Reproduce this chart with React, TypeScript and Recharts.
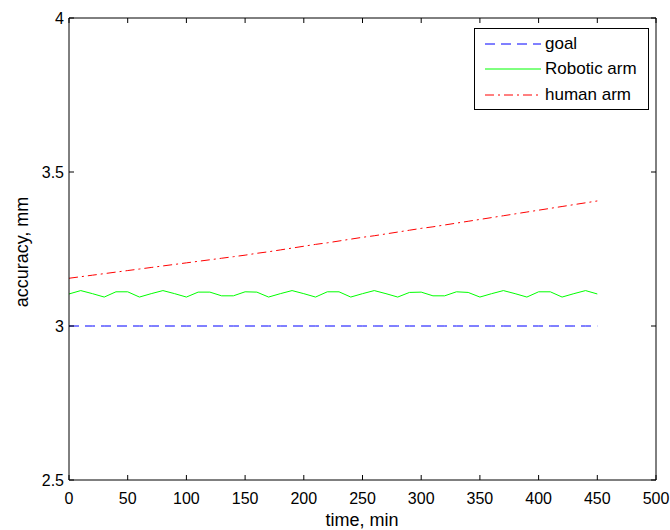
import { LineChart, Line, XAxis, YAxis, Label } from "recharts";

const TIMES = [
  0, 10, 20, 30, 40, 50, 60, 70, 80, 90, 100, 110, 120, 130, 140, 150, 160, 170, 180, 190, 200, 210, 220,
  230, 240, 250, 260, 270, 280, 290, 300, 310, 320, 330, 340, 350, 360, 370, 380, 390, 400, 410, 420, 430,
  440, 450,
];

const GOAL = TIMES.map(() => 3);

const ROBOTIC_ARM = [
  3.104, 3.115, 3.105, 3.094, 3.111, 3.111, 3.094, 3.105, 3.115, 3.105, 3.094, 3.11, 3.11, 3.098, 3.098,
  3.111, 3.11, 3.094, 3.105, 3.115, 3.105, 3.094, 3.111, 3.111, 3.094, 3.105, 3.115, 3.105, 3.094, 3.109,
  3.11, 3.098, 3.098, 3.111, 3.109, 3.094, 3.105, 3.115, 3.105, 3.094, 3.111, 3.111, 3.094, 3.105, 3.115,
  3.104,
];

const HUMAN_ARM = [
  3.155, 3.16, 3.165, 3.17, 3.175, 3.18, 3.185, 3.19, 3.195, 3.2, 3.205, 3.21, 3.215, 3.22, 3.225, 3.23,
  3.236, 3.241, 3.247, 3.253, 3.259, 3.265, 3.27, 3.276, 3.282, 3.288, 3.293, 3.299, 3.305, 3.311, 3.317,
  3.322, 3.328, 3.334, 3.34, 3.346, 3.352, 3.358, 3.364, 3.37, 3.376, 3.382, 3.388, 3.394, 3.4, 3.406,
];

const X_TICKS = [0, 50, 100, 150, 200, 250, 300, 350, 400, 450, 500];
const Y_TICKS = [2.5, 3, 3.5, 4];

const SERIES = [
  { key: "goal", name: "goal", color: "#0000ff", dash: "10 6" },
  { key: "robotic", name: "Robotic arm", color: "#00ff00", dash: undefined },
  { key: "human", name: "human arm", color: "#ff0000", dash: "9 4 2 4" },
];

const data = TIMES.map((t, i) => ({
  t,
  goal: GOAL[i],
  robotic: ROBOTIC_ARM[i],
  human: HUMAN_ARM[i],
}));

const FONT = "'Liberation Sans', Arial, sans-serif";
const tickStyle = { fill: "#000", fontSize: 16, fontFamily: FONT };

function LegendBox() {
  return (
    <div
      style={{
        position: "absolute",
        left: 474,
        top: 28,
        width: 175,
        height: 82,
        border: "1px solid #000",
        background: "#fff",
        fontFamily: FONT,
        fontSize: 17,
        color: "#000",
        paddingTop: 2,
        boxSizing: "border-box",
      }}
    >
      {SERIES.map((s) => (
        <div key={s.key} style={{ display: "flex", alignItems: "center", height: 25.5 }}>
          <svg width={70} height={10} style={{ flex: "none" }}>
            <line x1={10} y1={5} x2={66} y2={5} stroke={s.color} strokeWidth={1} strokeDasharray={s.dash} />
          </svg>
          <span>{s.name}</span>
        </div>
      ))}
    </div>
  );
}

export default function App() {
  return (
    <div style={{ position: "absolute", left: 0, top: 0, width: 670, height: 530, background: "#fff" }}>
      <LineChart width={670} height={530} data={data} margin={{ top: 17, right: 13, bottom: 0, left: 0 }}>
        <XAxis
          dataKey="t"
          type="number"
          domain={[0, 500]}
          ticks={X_TICKS}
          height={50}
          tickSize={-5}
          tickMargin={18}
          stroke="#000"
          tick={tickStyle}
          interval={0}
        >
          <Label
            position="insideBottom"
            content={() => (
              <text x={362} y={526} textAnchor="middle" fontSize={18} fontFamily={FONT} fill="#000">
                time, min
              </text>
            )}
          />
        </XAxis>
        <XAxis
          xAxisId="top"
          orientation="top"
          dataKey="t"
          type="number"
          domain={[0, 500]}
          ticks={X_TICKS}
          height={1}
          tickSize={-5}
          stroke="#000"
          tickFormatter={() => ""}
          interval={0}
        />
        <YAxis
          type="number"
          domain={[2.5, 4]}
          ticks={Y_TICKS}
          width={69}
          tickSize={-5}
          tickMargin={10}
          stroke="#000"
          tick={tickStyle}
          interval={0}
        >
          <Label
            position="insideLeft"
            content={() => (
              <text
                x={28}
                y={252}
                transform="rotate(-90 28 252)"
                textAnchor="middle"
                fontSize={18}
                fontFamily={FONT}
                fill="#000"
              >
                accuracy, mm
              </text>
            )}
          />
        </YAxis>
        <YAxis
          yAxisId="right"
          orientation="right"
          type="number"
          domain={[2.5, 4]}
          ticks={Y_TICKS}
          width={1}
          tickSize={-5}
          stroke="#000"
          tickFormatter={() => ""}
          interval={0}
        />
        {/* invisible copy so the top/right frame axes get drawn */}
        <Line
          xAxisId="top"
          yAxisId="right"
          dataKey="goal"
          stroke="none"
          dot={false}
          activeDot={false}
          legendType="none"
          isAnimationActive={false}
        />
        {SERIES.map((s) => (
          <Line
            key={s.key}
            dataKey={s.key}
            name={s.name}
            stroke={s.color}
            strokeWidth={1}
            strokeDasharray={s.dash}
            dot={false}
            activeDot={false}
            isAnimationActive={false}
            type="linear"
          />
        ))}
      </LineChart>
      <LegendBox />
    </div>
  );
}
